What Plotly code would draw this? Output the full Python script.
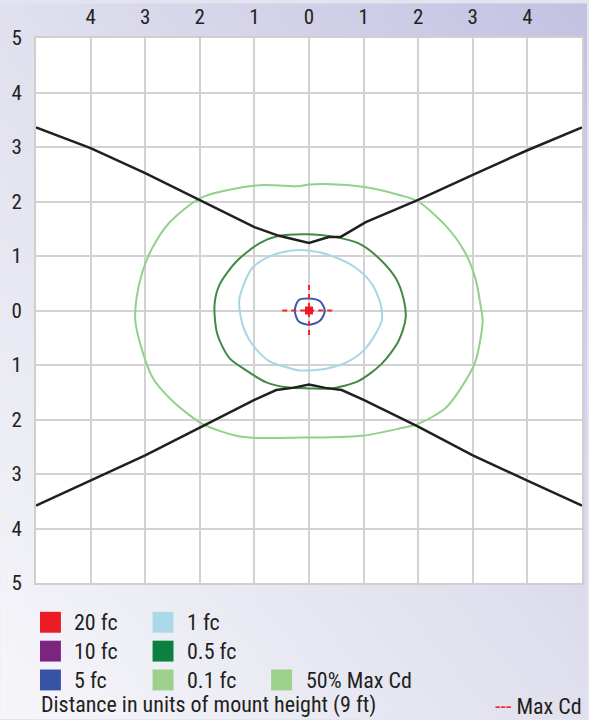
import base64
import plotly.graph_objects as go

# ---------------- data ----------------
x_tick_vals = [-4, -3, -2, -1, 0, 1, 2, 3, 4]
x_tick_text = ["4", "3", "2", "1", "0", "1", "2", "3", "4"]
y_tick_vals = [-5, -4, -3, -2, -1, 0, 1, 2, 3, 4, 5]
y_tick_text = ["5", "4", "3", "2", "1", "0", "1", "2", "3", "4", "5"]

# 50% Max Cd (black) boundaries
cd50_upper_x = [-5, -4, -3, -2, -1, -0.55, -0.3, 0, 0.36, 0.58, 1.04, 2, 3, 4, 5]
cd50_upper_y = [3.36, 2.98, 2.52, 2.03, 1.53, 1.37, 1.31, 1.24, 1.35, 1.35, 1.62, 2.03, 2.49, 2.94, 3.36]
cd50_lower_x = [-5, -4, -3, -2, -1, -0.6, -0.3, 0, 0.3, 0.6, 1, 2, 3, 4, 5]
cd50_lower_y = [-3.58, -3.12, -2.66, -2.15, -1.64, -1.46, -1.42, -1.36, -1.42, -1.46, -1.64, -2.13, -2.66, -3.12, -3.58]

# 0.1 fc (light green)
fc01_x = [0, 0.3, 1.04, 1.65, 2.0, 2.49, 2.85, 3.05, 3.14, 3.18, 3.05, 2.86, 2.5, 2.0, 1.64, 0.97, 0.18,
          -0.13, -0.91, -1.33, -1.95, -2.5, -2.86, -3.05, -3.18, -3.16, -3.05, -2.88, -2.55, -1.95, -0.91, -0.18, 0]
fc01_y = [2.31, 2.32, 2.26, 2.12, 2.0, 1.57, 1.08, 0.58, 0.11, -0.2, -0.93, -1.30, -1.79, -2.08, -2.17, -2.30, -2.33,
          -2.33, -2.34, -2.30, -2.08, -1.66, -1.24, -0.75, -0.2, 0.22, 0.71, 1.13, 1.62, 2.08, 2.30, 2.28, 2.31]

# 0.5 fc (dark green)
fc05_x = [0, 0.42, 0.91, 1.28, 1.59, 1.73, 1.77, 1.64, 1.33, 0.91, 0.42, 0,
          -0.42, -0.78, -1.15, -1.46, -1.68, -1.73, -1.64, -1.33, -0.91, -0.55, 0]
fc05_y = [1.40, 1.36, 1.23, 0.96, 0.59, 0.22, -0.14, -0.56, -0.98, -1.29, -1.43, -1.43,
          -1.41, -1.32, -1.10, -0.87, -0.43, 0.11, 0.47, 0.90, 1.23, 1.37, 1.40]

# 1 fc (light blue)
fc1_x = [0, 0.42, 0.86, 1.15, 1.31, 1.33, 1.04, 0.73, 0.31, -0.18,
         -0.31, -0.73, -1.04, -1.22, -1.28, -1.24, -1.04, -0.73, -0.31, 0]
fc1_y = [1.10, 1.00, 0.78, 0.49, 0.12, -0.19, -0.69, -0.93, -1.07, -1.10,
         -1.07, -0.93, -0.62, -0.25, 0.17, 0.35, 0.78, 0.99, 1.10, 1.10]

# 5 fc (blue)
fc5_x = [0, 0.2, 0.29, 0.2, 0, -0.19, -0.26, -0.19, 0]
fc5_y = [0.22, 0.17, 0, -0.19, -0.26, -0.2, 0, 0.19, 0.22]

# 20 fc (red) – peak at nadir
fc20_x = [0]
fc20_y = [0]

# Max Cd cross-hair
maxcd_h_x = [-0.49, 0.47]
maxcd_h_y = [0, 0]
maxcd_v_x = [0, 0]
maxcd_v_y = [-0.45, 0.49]

legend_labels = ["20 fc", "10 fc", "5 fc", "1 fc", "0.5 fc", "0.1 fc", "50% Max Cd"]
legend_colors = ["#ed1c24", "#7b2580", "#3953a4", "#aadaea", "#0b8140", "#9dd08a", "#9dd08a"]

# ---------------- layout geometry ----------------
W, H = 589, 720
ML, MR, MT, MB = 36, 5, 35, 137
PW = W - ML - MR
PH = H - MT - MB

def px(x):
    return (x - ML) / PW

def py(y):
    return (H - MB - y) / PH

FONT = "Roboto Condensed, Liberation Sans Narrow, sans-serif"
TXT = "#231f20"

svg = f'''<svg xmlns="http://www.w3.org/2000/svg" width="{W}" height="{H}" viewBox="0 0 {W} {H}" preserveAspectRatio="none">
<defs><linearGradient id="g" x1="0" y1="1" x2="1" y2="0">
<stop offset="0" stop-color="#f6f6fa"/>
<stop offset="0.5" stop-color="#e0e0ee"/>
<stop offset="1" stop-color="#c3c1e2"/>
</linearGradient></defs>
<rect x="0" y="0" width="{W}" height="{H}" fill="url(#g)"/>
<rect x="{ML+1}" y="{MT+1}" width="{PW+1}" height="{PH+1}" fill="#b8b8c8" opacity="0.5"/>
<rect x="{ML}" y="{MT}" width="{PW}" height="{PH}" fill="#ffffff"/>
</svg>'''
bg_uri = "data:image/svg+xml;base64," + base64.b64encode(svg.encode()).decode()

fig = go.Figure()

line_specs = [
    (fc01_x, fc01_y, "#93d08c", 2.0, "spline"),
    (fc05_x, fc05_y, "#3f8a44", 2.0, "spline"),
    (fc1_x, fc1_y, "#a9d5e4", 2.0, "spline"),
    (fc5_x, fc5_y, "#4058ab", 2.0, "spline"),
]
for xs, ys, col, w, shp in line_specs:
    fig.add_trace(go.Scatter(x=xs, y=ys, mode="lines",
                             line=dict(color=col, width=w, shape=shp, smoothing=0.8),
                             showlegend=False, hoverinfo="skip"))

for xs, ys in [(cd50_upper_x, cd50_upper_y), (cd50_lower_x, cd50_lower_y)]:
    fig.add_trace(go.Scatter(x=xs, y=ys, mode="lines",
                             line=dict(color="#202020", width=2.5),
                             showlegend=False, hoverinfo="skip"))

for xs, ys in [(maxcd_h_x, maxcd_h_y), (maxcd_v_x, maxcd_v_y)]:
    fig.add_trace(go.Scatter(x=xs, y=ys, mode="lines",
                             line=dict(color="#ee2a2a", width=2, dash="5px,4px"),
                             showlegend=False, hoverinfo="skip"))

fig.add_trace(go.Scatter(x=fc20_x, y=fc20_y, mode="markers",
                         marker=dict(symbol="square", size=8, color="#ed1c24"),
                         showlegend=False, hoverinfo="skip"))

axis_common = dict(
    showgrid=True, gridcolor="#d2d2d2", gridwidth=2,
    zeroline=False, showline=True, linecolor="#cfcfcf", linewidth=2, mirror=True,
    ticks="", tickfont=dict(family=FONT, size=21, color=TXT),
    fixedrange=True,
)
fig.update_xaxes(range=[-5, 5], tickvals=x_tick_vals, ticktext=x_tick_text,
                 side="top", ticklabelstandoff=4, **axis_common)
fig.update_yaxes(range=[-5, 5], tickvals=y_tick_vals, ticktext=y_tick_text,
                 ticklabelstandoff=8, **axis_common)

# legend built from swatches + annotations
shapes = []
annotations = []
col_sw_x = [40, 153, 272]
col_tx_x = [72, 186, 305]
row_top = [612, 641, 670]
positions = [(0, 0), (0, 1), (0, 2), (1, 0), (1, 1), (1, 2), (2, 2)]
for (c, r), lab, colr in zip(positions, legend_labels, legend_colors):
    x0 = col_sw_x[c]
    y0 = row_top[r]
    shapes.append(dict(type="rect", xref="paper", yref="paper",
                       x0=px(x0), x1=px(x0 + 21), y0=py(y0 + 21), y1=py(y0),
                       fillcolor=colr, line=dict(width=0), layer="above"))
    annotations.append(dict(xref="paper", yref="paper", x=px(col_tx_x[c]), y=py(y0 + 11),
                            text=lab, showarrow=False, xanchor="left", yanchor="middle",
                            font=dict(family=FONT, size=22, color=TXT)))

annotations.append(dict(xref="paper", yref="paper", x=px(39), y=py(706),
                        text="Distance in units of mount height (9 ft)", showarrow=False,
                        xanchor="left", yanchor="middle",
                        font=dict(family=FONT, size=22, color=TXT)))
annotations.append(dict(xref="paper", yref="paper", x=px(586), y=py(707),
                        text="<span style='color:#ee2a2a'>---</span> Max Cd", showarrow=False,
                        xanchor="right", yanchor="middle",
                        font=dict(family=FONT, size=22, color=TXT)))

fig.update_layout(
    width=W, height=H,
    margin=dict(l=ML, r=MR, t=MT, b=MB, pad=0),
    paper_bgcolor="#e4e4f0",
    plot_bgcolor="rgba(0,0,0,0)",
    showlegend=False,
    shapes=shapes,
    annotations=annotations,
    images=[dict(source=bg_uri, xref="paper", yref="paper",
                 x=-ML / PW, y=1 + MT / PH, sizex=W / PW, sizey=H / PH,
                 xanchor="left", yanchor="top", sizing="stretch", layer="below")],
)

fig.write_html("out.html", config={"displayModeBar": False},
               post_script="document.body.style.margin='0';")
